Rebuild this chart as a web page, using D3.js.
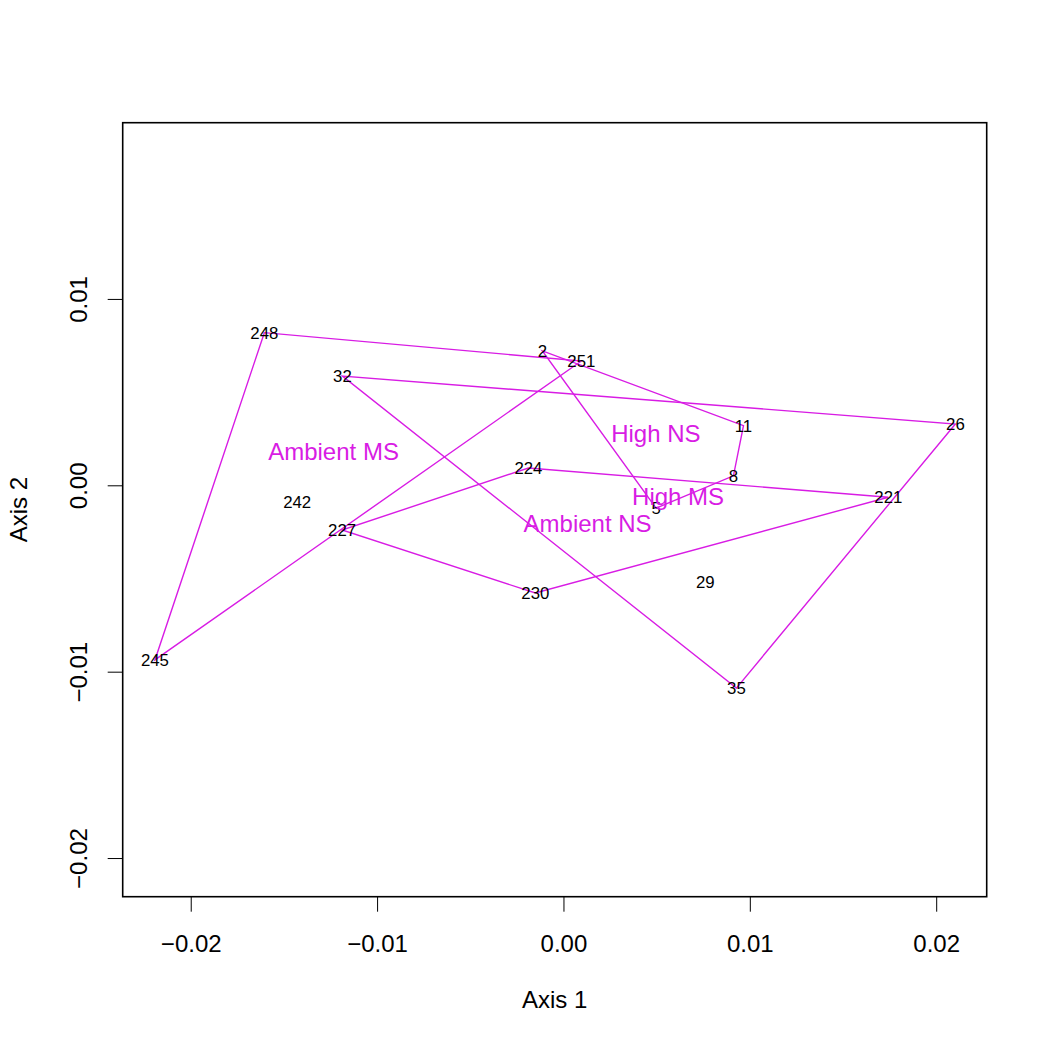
<!DOCTYPE html>
<html>
<head>
<meta charset="utf-8">
<script src="https://cdn.jsdelivr.net/npm/d3@7"></script>
<style>
  html, body { margin: 0; padding: 0; background: #fff; }
  svg { display: block; font-family: "Liberation Sans", Arial, Helvetica, sans-serif; }
</style>
</head>
<body>
<svg id="chart" width="1050" height="1050"></svg>
<script>
// ---- data ----
const siteIds   = ["248", "251", "245", "242", "2", "11", "8", "5", "224", "221", "230", "227", "32", "26", "35", "29"];
const axis1     = [-0.01605, 0.00096, -0.02192, -0.01429, -0.00113, 0.00966, 0.00912, 0.00497, -0.00188, 0.01743, -0.00151, -0.01188, -0.01186, 0.02103, 0.00928, 0.00761];
const axis2     = [0.00819, 0.00667, -0.00937, -0.00088, 0.00721, 0.00320, 0.00051, -0.00122, 0.00093, -0.00064, -0.00578, -0.00240, 0.00586, 0.00329, -0.01088, -0.00517];
const siteGroup = ["Ambient MS", "Ambient MS", "Ambient MS", "Ambient MS",
                   "High NS", "High NS", "High NS", "High NS",
                   "Ambient NS", "Ambient NS", "Ambient NS", "Ambient NS",
                   "High MS", "High MS", "High MS", "High MS"];
const groupNames = ["Ambient MS", "High NS", "Ambient NS", "High MS"];
const xTicks = [-0.02, -0.01, 0.00, 0.01, 0.02];
const yTicks = [-0.02, -0.01, 0.00, 0.01];
const xDomain = [-0.02365, 0.02271];
const yDomain = [-0.022074, 0.019456];

// ---- layout ----
const L = 122.7, R = 986.7, T = 122.7, B = 896.7;
const hullColor = "#D81CE4";
const fmt = d3.format(".2f");

const svg = d3.select("#chart");
const x = d3.scaleLinear().domain(xDomain).range([L, R]);
const y = d3.scaleLinear().domain(yDomain).range([B, T]);

// x axis
const gx = svg.append("g").attr("transform", `translate(0,${B})`)
  .call(d3.axisBottom(x).tickValues(xTicks).tickFormat(fmt).tickSize(15).tickPadding(23));
gx.select(".domain").remove();
gx.selectAll(".tick line").attr("stroke", "#000").attr("stroke-width", 1);
gx.selectAll(".tick text").attr("font-size", 24).attr("fill", "#000")
  .attr("font-family", "'Liberation Sans', Arial, sans-serif");

// y axis
const gy = svg.append("g").attr("transform", `translate(${L},0)`)
  .call(d3.axisLeft(y).tickValues(yTicks).tickFormat(fmt).tickSize(15));
gy.select(".domain").remove();
gy.selectAll(".tick line").attr("stroke", "#000").attr("stroke-width", 1);
gy.selectAll(".tick text")
  .attr("font-size", 24).attr("fill", "#000")
  .attr("font-family", "'Liberation Sans', Arial, sans-serif")
  .attr("transform", "rotate(-90)")
  .attr("x", 0).attr("y", -36).attr("dy", null)
  .attr("text-anchor", "middle");

// box
svg.append("rect").attr("x", L).attr("y", T).attr("width", R - L).attr("height", B - T)
  .attr("fill", "none").attr("stroke", "#000").attr("stroke-width", 1.6);

// axis titles
svg.append("text").attr("x", (L + R) / 2).attr("y", 1008).attr("text-anchor", "middle")
  .attr("font-size", 24).attr("fill", "#000").text("Axis 1");
svg.append("text").attr("transform", `translate(27,${(T + B) / 2}) rotate(-90)`)
  .attr("text-anchor", "middle").attr("font-size", 24).attr("fill", "#000").text("Axis 2");

// sites
const sites = siteIds.map((id, i) => ({ id, a1: axis1[i], a2: axis2[i], g: siteGroup[i] }));

// hulls
const plot = svg.append("g");
groupNames.forEach(g => {
  const pts = sites.filter(s => s.g === g).map(s => [s.a1, s.a2]);
  const hull = d3.polygonHull(pts);
  plot.append("path")
    .attr("d", "M" + hull.map(p => [x(p[0]), y(p[1])].join(",")).join("L") + "Z")
    .attr("fill", "none").attr("stroke", hullColor).attr("stroke-width", 1.4);
});

// site labels
plot.selectAll("text.site").data(sites).join("text").attr("class", "site")
  .attr("x", d => x(d.a1)).attr("y", d => y(d.a2)).attr("dy", "0.36em")
  .attr("text-anchor", "middle").attr("font-size", 16.8).attr("fill", "#000")
  .text(d => d.id);

// group labels at hull centroids
groupNames.forEach(g => {
  const pts = sites.filter(s => s.g === g).map(s => [s.a1, s.a2]);
  const c = d3.polygonCentroid(d3.polygonHull(pts));
  plot.append("text").attr("x", x(c[0])).attr("y", y(c[1])).attr("dy", "0.36em")
    .attr("text-anchor", "middle").attr("font-size", 24).attr("fill", hullColor).text(g);
});
</script>
</body>
</html>
